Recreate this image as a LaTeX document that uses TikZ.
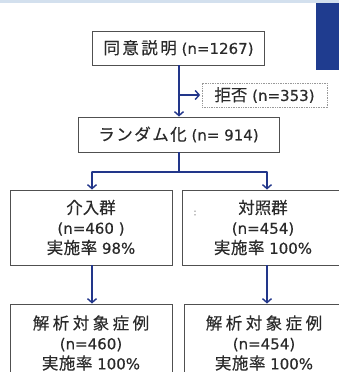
\documentclass[tikz,border=0pt]{standalone}
\usepackage{fontspec}
\setmainfont[FakeBold=0.3]{DejaVu Sans}
\newfontfamily\cjk[FakeBold=0.25]{Noto Sans CJK JP}
\newcommand\cj[2][0]{{\cjk\fontsize{16.5}{18}\selectfont\addfontfeature{LetterSpace=#1}#2}}
\usetikzlibrary{arrows.meta}
\definecolor{arrowblue}{HTML}{22368A}
\definecolor{boxgray}{HTML}{505050}
\definecolor{txtgray}{HTML}{2A2A2A}
\definecolor{bandblue}{HTML}{D3E0EE}
\definecolor{slideblue}{HTML}{1F3C8F}
\begin{document}
\begin{tikzpicture}[x=1pt,y=-1pt,
  box/.style={draw=boxgray, line width=0.9pt, fill=white, text=txtgray, inner sep=0pt, align=center},
  dotbox/.style={draw=gray!80, line width=0.7pt, dash pattern=on 1pt off 0.7pt, fill=white, text=txtgray, inner sep=0pt},
  flow/.style={draw=arrowblue, line width=1.6pt},
  arr/.style={flow, -{Straight Barb[length=4pt,width=9pt,line width=1.4pt]}},
  topfont/.style={font=\fontsize{15}{18}\selectfont},
  lowfont/.style={font=\fontsize{15}{20}\selectfont}
]
\clip (0,0) rectangle (339,372);
\fill[white] (0,0) rectangle (339,372);
\fill[bandblue] (0,0) rectangle (339,3);
\fill[slideblue] (316,3) rectangle (345,70);

\node[box, topfont, minimum width=172pt, minimum height=34pt] (b1) at (178.5,48) {\cj[15]{同意説明} (n=1267)};
\node[dotbox, topfont, minimum width=125pt, minimum height=24pt] (rej) at (264.5,95) {\cj{拒否} (n=353)};
\node[box, topfont, minimum width=201pt, minimum height=35pt] (b2) at (178.5,134.5) {\cj[9]{ランダム化} (n= 914)};

\node[box, lowfont, minimum width=162pt, minimum height=75pt] (L1) at (91,227.5) {\cj{介入群}\\(n=460 )\\\cj[3]{実施率} 98\%};
\node[box, lowfont, minimum width=162pt, minimum height=75pt] (R1) at (263,227.5) {\cj{対照群}\\(n=454)\\\cj[3]{実施率} 100\%};
\node[text=gray, font=\fontsize{9}{10}\selectfont] (colon) at (195,213) {:};

\node[box, lowfont, minimum width=162pt, minimum height=78pt] (L2) at (91,343) {\cj[21]{解析対象症例}\\(n=460)\\\cj[3]{実施率} 100\%};
\node[box, lowfont, minimum width=160pt, minimum height=78pt] (R2) at (264,343) {\cj[21]{解析対象症例}\\(n=454)\\\cj[3]{実施率} 100\%};

\coordinate (trunk) at (179,65);
\draw[arr] (trunk) -- (trunk |- b2.north);
\draw[arr, shorten >=1.5pt] (trunk |- rej.west) -- (rej.west);

\coordinate (sp) at (179,172);
\coordinate (sl) at (92,172);
\coordinate (sr) at (267,172);
\draw[flow] (trunk |- b2.south) -- (sp);
\draw[flow, line cap=round] (sl) -- (sr);
\draw[arr] (sl) -- (sl |- L1.north);
\draw[arr] (sr) -- (sr |- R1.north);
\draw[arr] (sl |- L1.south) -- (sl |- L2.north);
\draw[arr] (sr |- R1.south) -- (sr |- R2.north);
\end{tikzpicture}
\end{document}
